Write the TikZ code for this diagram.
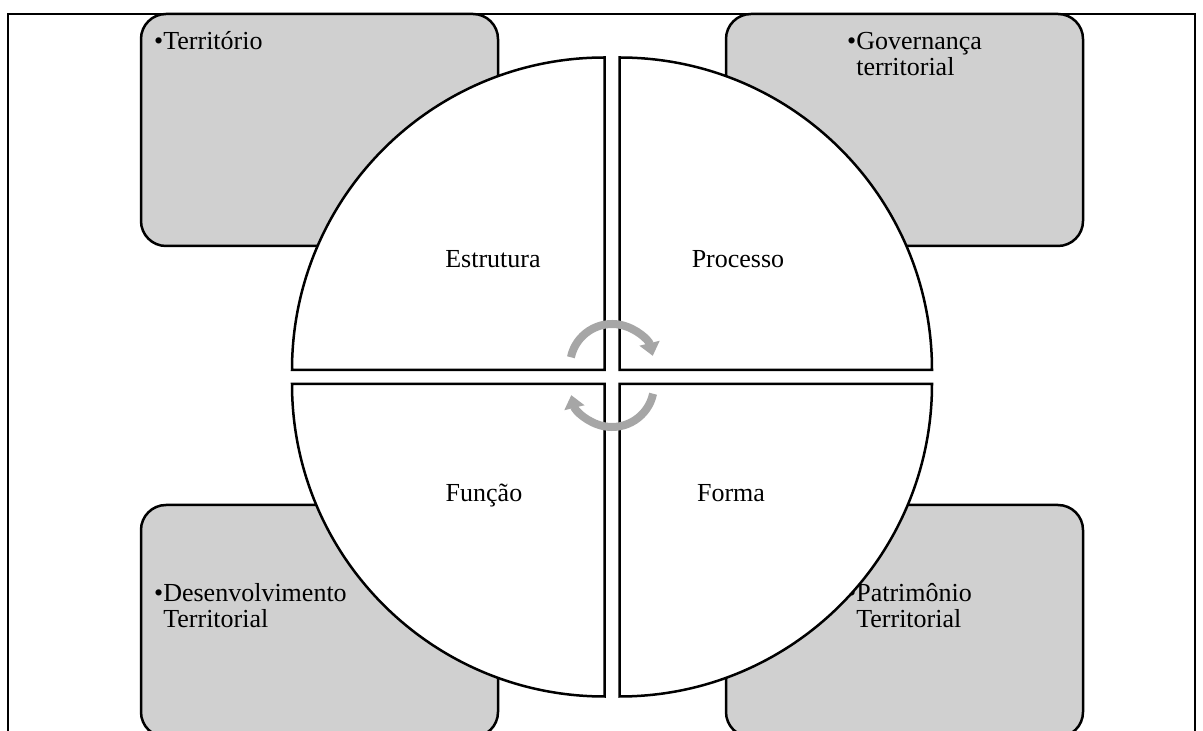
\documentclass[tikz,border=0pt]{standalone}
\usepackage{fontspec}
\setmainfont{Liberation Serif}
\usetikzlibrary{arrows.meta}
\definecolor{boxgray}{HTML}{D0D0D0}
\definecolor{cycgray}{HTML}{A6A6A6}
\tikzset{
  box/.style={fill=boxgray, draw=black, line width=2.5pt, rounded corners=25pt,
              minimum width=357pt, minimum height=232pt, inner sep=0pt},
  quad/.style={fill=white, draw=black, line width=2.5pt},
  lbl/.style={font=\fontsize{26}{25}\selectfont, inner sep=0pt, anchor=base},
  txt/.style={font=\fontsize{26}{25}\selectfont, inner sep=0pt, anchor=base west},
  cyc/.style={draw=cycgray, line width=8pt, -{Triangle[width=20pt,length=13pt]}},
  frame/.style={draw=black, line width=2pt}
}
\begin{document}
\begin{tikzpicture}[x=1pt,y=1pt]
\useasboundingbox (0,0) rectangle (1203,731);
% page frame
\draw[frame] (8,-5) -- (8,717) -- (1195,717) -- (1195,-5);
% corner boxes
\node[box] (tl) at (319.5,601) {};
\node[box] (tr) at (904.5,601) {};
\node[box] (bl) at (319.5,110) {};
\node[box] (br) at (904.5,110) {};
% box texts
\node[txt] (ttl) at (154,681) {•Território};
\node[txt] (ttr) at (847,681) {\begin{tabular}[t]{@{}l@{}l@{}}•&Governança\\&territorial\end{tabular}};
\node[txt] (tbl) at (154,129) {\begin{tabular}[t]{@{}l@{}l@{}}•&Desenvolvimento\\&Territorial\end{tabular}};
\node[txt] (tbr) at (847,129) {\begin{tabular}[t]{@{}l@{}l@{}}•&Patrimônio\\&Territorial\end{tabular}};
% quadrants
\path[quad] (604.5,361) -- (292,361) arc[start angle=180, end angle=90, radius=312.5pt] -- cycle;
\path[quad] (619.5,361) -- (619.5,673.5) arc[start angle=90, end angle=0, radius=312.5pt] -- cycle;
\path[quad] (604.5,347) -- (292,347) arc[start angle=180, end angle=270, radius=312.5pt] -- cycle;
\path[quad] (619.5,347) -- (619.5,34.5) arc[start angle=270, end angle=360, radius=312.5pt] -- cycle;
% quadrant labels
\node[lbl] (est) at (493,463) {Estrutura};
\node[lbl] (pro) at (738,463) {Processo};
\node[lbl] (fun) at (484,229) {Função};
\node[lbl] (for) at (731,229) {Forma};
% cycle arrows
\draw[cyc] (612,365) ++(168:42pt) arc[start angle=168, end angle=14, radius=42pt];
\draw[cyc] (612,346) ++(-12:42pt) arc[start angle=-12, end angle=-166, radius=42pt];
\end{tikzpicture}
\end{document}
